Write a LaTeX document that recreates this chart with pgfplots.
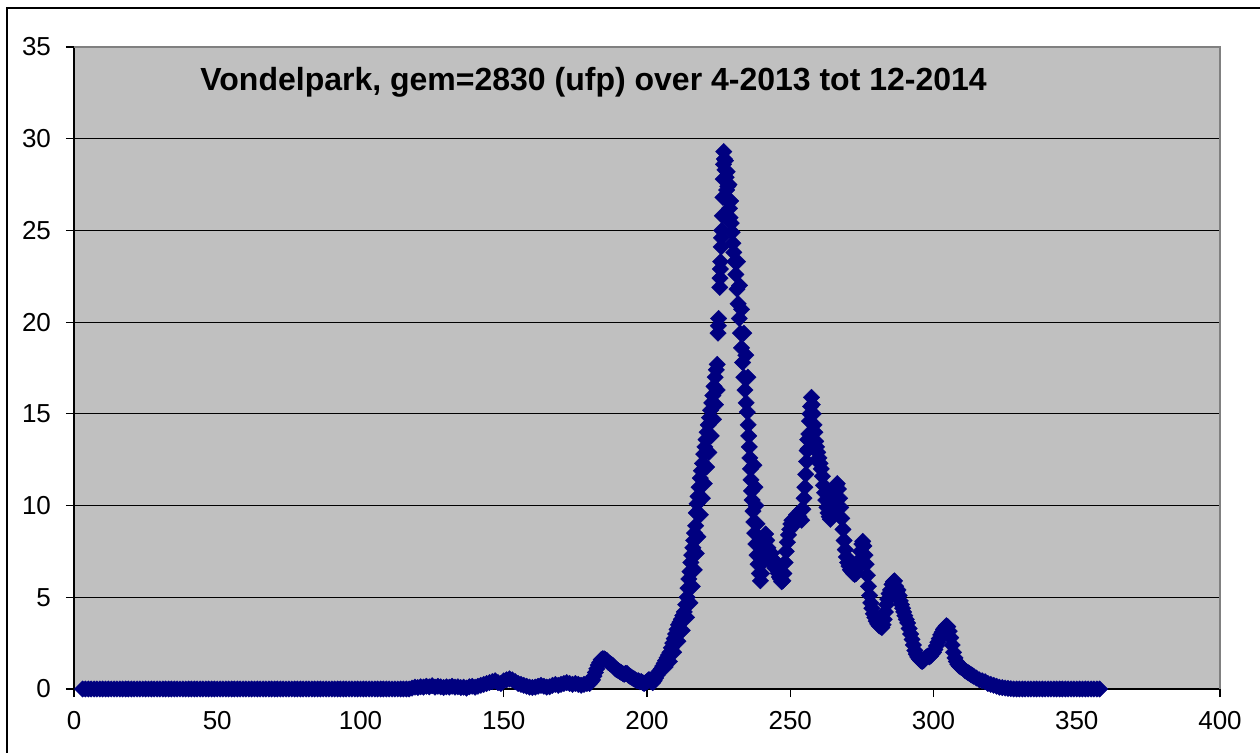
\documentclass[border=0pt]{standalone}
\usepackage{pgfplots}
\pgfplotsset{compat=1.18}
\usepackage{fontspec}
\setmainfont{Liberation Sans}
\definecolor{plotbg}{HTML}{C0C0C0}
\definecolor{navy}{HTML}{000080}
\definecolor{frameg}{HTML}{808080}
\begin{document}
\begin{tikzpicture}
\useasboundingbox (0,0) rectangle (630pt,376pt);
\begin{axis}[
  at={(37pt,31.5pt)}, anchor=south west,
  width=573pt, height=321pt, scale only axis,
  xmin=0, xmax=400, ymin=0, ymax=35,
  xtick={0,50,...,400}, ytick={0,5,...,35},
  ymajorgrids, grid style={black, line width=0.6pt},
  tick align=outside, xtick pos=bottom, ytick pos=left,
  major tick length=4pt, tick style={black, line width=0.6pt},
  axis line style={draw=none},
  axis background/.style={fill=plotbg},
  clip=false,
  tick label style={font=\fontsize{13}{15}\selectfont},
  xticklabel style={yshift=-3.5pt},
  yticklabel style={xshift=-4pt},
  /pgf/number format/assume math mode=true,
]
\addplot[only marks, mark=square*, mark size=2.9pt, mark options={rotate=45, fill=navy, draw=navy, line width=0.2pt}] table[row sep=\\] {
x y\\
3 0\\ 4 0\\ 5 0\\ 6 0\\ 7 0\\ 8 0\\ 9 0\\ 10 0\\ 11 0\\ 12 0\\ 13 0\\ 14 0\\ 15 0\\ 16 0\\ 17 0\\ 18 0\\ 19 0\\ 20 0\\
21 0\\ 22 0\\ 23 0\\ 24 0\\ 25 0\\ 26 0\\ 27 0\\ 28 0\\ 29 0\\ 30 0\\ 31 0\\ 32 0\\ 33 0\\ 34 0\\ 35 0\\ 36 0\\ 37 0\\ 38 0\\ 39 0\\ 40 0\\
41 0\\ 42 0\\ 43 0\\ 44 0\\ 45 0\\ 46 0\\ 47 0\\ 48 0\\ 49 0\\ 50 0\\ 51 0\\ 52 0\\ 53 0\\ 54 0\\ 55 0\\ 56 0\\ 57 0\\ 58 0\\ 59 0\\ 60 0\\
61 0\\ 62 0\\ 63 0\\ 64 0\\ 65 0\\ 66 0\\ 67 0\\ 68 0\\ 69 0\\ 70 0\\ 71 0\\ 72 0\\ 73 0\\ 74 0\\ 75 0\\ 76 0\\ 77 0\\ 78 0\\ 79 0\\ 80 0\\
81 0\\ 82 0\\ 83 0\\ 84 0\\ 85 0\\ 86 0\\ 87 0\\ 88 0\\ 89 0\\ 90 0\\ 91 0\\ 92 0\\ 93 0\\ 94 0\\ 95 0\\ 96 0\\ 97 0\\ 98 0\\ 99 0\\ 100 0\\
101 0\\ 102 0\\ 103 0\\ 104 0\\ 105 0\\ 106 0\\ 107 0\\ 108 0\\ 109 0\\ 110 0\\ 111 0\\ 112 0\\ 113 0\\ 114 0\\ 115 0\\ 116 0\\ 117 0\\
118 0.05\\ 119 0.1\\ 120 0.08\\ 121 0.12\\ 122 0.1\\ 123 0.15\\ 124 0.12\\ 125 0.18\\ 126 0.1\\ 127 0.15\\ 128 0.12\\ 129 0.08\\
130 0.12\\ 131 0.1\\ 132 0.15\\ 133 0.1\\ 134 0.12\\ 135 0.08\\ 136 0.1\\ 137 0.05\\ 138 0.12\\ 139 0.15\\ 140 0.1\\ 141 0.15\\
142 0.2\\ 143 0.25\\ 144 0.3\\ 145 0.35\\ 146 0.4\\ 147 0.45\\ 148 0.35\\ 149 0.3\\ 150 0.45\\ 151 0.5\\ 152 0.55\\ 153 0.5\\
154 0.4\\ 155 0.3\\ 156 0.25\\ 157 0.2\\ 158 0.15\\ 159 0.1\\ 160 0.08\\ 161 0.1\\ 162 0.15\\ 163 0.2\\ 164 0.15\\ 165 0.1\\
166 0.12\\ 167 0.2\\ 168 0.25\\ 169 0.2\\ 170 0.25\\ 171 0.3\\ 172 0.35\\ 173 0.3\\ 174 0.25\\ 175 0.3\\ 176 0.25\\ 177 0.2\\
178 0.25\\ 179 0.3\\
180 0.3\\ 180.5 0.4\\ 181 0.5\\ 181.5 0.7\\ 182 0.9\\ 182.5 1.1\\ 183 1.3\\ 183.5 1.45\\ 184 1.6\\ 184.5 1.65\\ 185 1.65\\
185.5 1.6\\ 186 1.55\\ 186.5 1.45\\ 187 1.4\\ 187.5 1.35\\ 188 1.3\\ 188.5 1.2\\ 189 1.1\\ 189.5 1.05\\ 190 1.0\\ 190.5 0.95\\
191 0.9\\ 191.5 0.85\\ 192 0.8\\ 192.5 0.85\\ 193 0.85\\ 193.5 0.75\\ 194 0.7\\ 194.5 0.65\\ 195 0.6\\ 195.5 0.55\\ 196 0.5\\
196.5 0.45\\ 197 0.45\\ 197.5 0.4\\ 198 0.4\\ 198.5 0.35\\ 199 0.3\\ 199.5 0.35\\ 200 0.4\\ 200.5 0.5\\ 201 0.5\\ 201.5 0.4\\
202 0.35\\ 202.5 0.45\\ 203 0.6\\ 203.5 0.75\\ 204 0.9\\ 204.5 1.0\\ 205 1.1\\ 205.5 1.25\\ 206 1.4\\ 206.5 1.55\\ 207 1.7\\
207.5 1.85\\ 208 2.0\\ 208.5 2.25\\ 209 2.5\\ 209.5 2.75\\ 210 3.0\\ 210.5 3.25\\ 211 3.5\\ 211.5 3.65\\ 212 3.8\\ 212.5 4.0\\
213 4.2\\ 213.5 4.6\\ 214 5.0\\ 214.3 5.5\\ 214.6 6.0\\ 215 6.4\\ 215.3 6.9\\ 215.6 7.3\\ 216 7.7\\ 216.3 8.1\\ 216.6 8.5\\ 217 8.9\\
217.2 9.6\\ 217.5 10.1\\ 217.8 10.5\\ 218.2 11.0\\ 218.6 11.5\\ 219 11.9\\ 219.4 12.3\\ 219.8 12.8\\ 220.2 13.2\\ 220.6 13.6\\
221 14.0\\ 221.4 14.4\\ 221.8 14.8\\ 222.2 15.2\\ 222.6 15.6\\ 223 16.0\\ 223.4 16.5\\ 223.8 17.0\\ 224.2 17.4\\ 224.5 17.7\\
224.8 19.4\\ 224.9 19.8\\ 225.0 20.2\\ 225.4 21.9\\ 225.5 22.4\\ 225.6 22.9\\ 225.7 23.3\\ 225.9 24.1\\ 226.0 24.6\\ 226.1 25.0\\
226.3 25.8\\ 226.5 26.8\\ 226.6 27.8\\ 226.7 28.6\\ 226.8 29.3\\ 227.0 28.9\\ 227.2 28.3\\ 227.4 28.8\\ 227.6 27.9\\ 227.8 27.2\\
228.0 28.2\\ 228.2 27.4\\ 228.4 26.6\\ 228.6 27.5\\ 228.8 26.2\\ 229.0 25.7\\ 229.2 26.6\\ 229.4 25.4\\ 229.7 24.9\\ 230.0 24.3\\
230.3 23.8\\ 230.6 23.3\\ 231.0 22.6\\ 231.4 21.8\\ 231.8 21.0\\ 232.2 20.2\\ 232.6 19.4\\ 233.0 18.6\\ 233.4 17.8\\ 233.8 17.0\\
234.2 16.3\\ 234.6 15.6\\ 235.0 15.1\\ 235.3 14.4\\ 235.5 13.8\\ 235.7 13.2\\ 235.9 12.6\\ 236.1 12.0\\ 236.3 11.4\\ 236.5 10.8\\
236.7 10.3\\ 237.0 9.7\\ 237.3 9.1\\ 237.6 8.5\\ 238.0 7.9\\ 238.4 7.3\\ 238.8 6.8\\ 239.2 6.3\\ 239.6 5.9\\ 240.0 6.3\\ 240.4 6.9\\
240.8 7.5\\ 241.1 8.0\\ 241.4 8.45\\ 241.8 8.1\\ 242.2 7.7\\ 242.6 7.3\\ 243.0 7.0\\ 243.4 7.4\\ 243.8 7.1\\ 244.2 6.8\\ 244.6 6.6\\
245.0 6.9\\ 245.4 6.5\\ 245.8 6.3\\ 246.2 6.1\\ 246.6 6.0\\ 247.0 5.85\\ 247.4 5.9\\ 247.8 6.3\\ 248.2 6.9\\ 248.6 7.5\\ 249.0 8.0\\
249.4 8.4\\ 249.8 8.7\\ 250.2 9.0\\ 250.6 9.2\\ 251.0 8.9\\ 251.4 9.1\\ 251.8 9.3\\ 252.2 9.5\\ 252.6 9.4\\ 253.0 9.4\\ 253.5 9.7\\
254.0 9.2\\ 254.4 9.8\\ 254.8 10.4\\ 255.1 11.0\\ 255.4 11.7\\ 255.7 12.4\\ 255.9 13.0\\ 256.1 13.6\\ 256.3 13.1\\ 256.5 13.9\\
256.7 14.6\\ 256.9 15.0\\ 257.1 15.4\\ 257.4 15.9\\ 257.7 15.5\\ 258.0 15.0\\ 258.3 14.4\\ 258.6 14.0\\ 258.9 13.5\\ 259.2 13.2\\
259.6 12.9\\ 260.0 12.6\\ 260.4 12.3\\ 260.8 12.0\\ 261.2 11.6\\ 261.6 11.1\\ 262.0 10.7\\ 262.4 10.3\\ 262.8 9.9\\ 263.2 9.6\\
263.6 9.4\\ 264.0 9.25\\ 264.4 9.6\\ 264.8 10.1\\ 265.2 10.6\\ 265.6 10.9\\ 266.0 11.1\\ 266.4 11.2\\ 266.8 10.9\\ 267.2 10.4\\
267.6 9.9\\ 268.0 9.3\\ 268.4 8.7\\ 268.8 8.1\\ 269.2 7.6\\ 269.6 7.2\\ 270.0 6.9\\ 270.5 6.7\\ 271.0 6.5\\ 271.5 6.4\\ 272.0 6.3\\
272.5 6.25\\ 273.0 6.3\\ 273.5 6.6\\ 274.0 7.0\\ 274.5 7.5\\ 275.0 7.9\\ 275.3 8.05\\ 275.7 7.8\\ 276.1 7.3\\ 276.5 6.8\\ 276.9 6.2\\
277.3 5.6\\ 277.7 5.1\\ 278.1 4.7\\ 278.5 4.4\\ 279.0 4.1\\ 279.5 3.9\\ 280.0 3.7\\ 280.5 3.55\\ 281.0 3.45\\ 281.5 3.4\\ 282.0 3.35\\
282.4 3.5\\ 282.8 3.8\\ 283.2 4.2\\ 283.6 4.6\\ 284.0 4.9\\ 284.5 5.2\\ 285.0 5.4\\ 285.5 5.7\\ 286.0 5.85\\ 286.4 5.9\\ 286.8 5.6\\
287.2 5.3\\ 287.6 5.4\\ 288.0 5.1\\ 288.4 4.8\\ 288.8 4.6\\ 289.2 4.4\\ 289.6 4.2\\ 290.0 4.0\\ 290.5 3.8\\ 291.0 3.6\\ 291.5 3.3\\
292.0 3.0\\ 292.5 2.7\\ 293.0 2.4\\ 293.5 2.1\\ 294.0 1.9\\ 294.5 1.75\\ 295.0 1.65\\ 295.5 1.55\\ 296.0 1.5\\ 296.5 1.55\\ 297.0 1.65\\
297.5 1.75\\ 298.0 1.8\\ 298.5 1.75\\ 299.0 1.8\\ 299.5 1.9\\ 300.0 2.0\\ 300.5 2.15\\ 301.0 2.35\\ 301.5 2.55\\ 302.0 2.75\\
302.5 2.95\\ 303.0 3.1\\ 303.5 3.25\\ 304.0 3.35\\ 304.5 3.45\\ 305.0 3.4\\ 305.5 3.15\\ 306.0 2.8\\ 306.5 2.4\\ 307.0 2.0\\
307.5 1.7\\ 308.0 1.5\\ 308.5 1.35\\ 309.0 1.25\\ 309.5 1.2\\ 310.0 1.15\\ 310.5 1.1\\ 311.0 1.0\\ 311.5 0.95\\ 312.0 0.9\\
312.5 0.85\\ 313.0 0.8\\ 313.5 0.75\\ 314.0 0.7\\ 315.0 0.6\\ 316.0 0.5\\ 317.0 0.45\\ 318.0 0.4\\ 319.0 0.3\\ 320.0 0.25\\
321.0 0.2\\ 322.0 0.15\\ 323.0 0.1\\ 324.0 0.08\\ 325.0 0.05\\ 326 0.03\\ 327 0.02\\ 328 0\\ 329 0\\ 330 0\\
331 0\\ 332 0\\ 333 0\\ 334 0\\ 335 0\\ 336 0\\ 337 0\\ 338 0\\ 339 0\\ 340 0\\ 341 0\\ 342 0\\ 343 0\\ 344 0\\ 345 0\\ 346 0\\
347 0\\ 348 0\\ 349 0\\ 350 0\\ 351 0\\ 352 0\\ 353 0\\ 354 0\\ 355 0\\ 356 0\\ 357 0\\ 358 0\\
206.3 1.2\\ 207.8 1.5\\ 209.3 2.0\\ 210.8 2.6\\ 212.3 3.2\\ 213.8 3.9\\ 215.0 4.7\\ 215.8 5.6\\ 216.5 6.5\\ 217.2 7.4\\
217.8 8.3\\ 218.6 9.5\\ 219.3 10.4\\ 220.0 11.2\\ 220.8 12.1\\ 221.6 12.9\\ 222.4 13.8\\ 223.2 14.7\\ 223.9 15.5\\ 224.5 16.3\\
231.6 23.3\\ 232.3 22.0\\ 233.0 20.7\\ 233.8 19.4\\ 234.5 18.2\\ 235.2 17.0\\
237.3 12.2\\ 237.7 11.0\\ 238.0 10.0\\ 238.4 9.0\\ 238.8 8.0\\ 239.3 7.2\\
};
\draw[black, line width=0.8pt] (rel axis cs:0,1) -- (rel axis cs:0,0) -- (rel axis cs:1,0);
\draw[frameg, line width=1pt] (rel axis cs:0,1) -- (rel axis cs:1,1) -- (rel axis cs:1,0);
\node[anchor=west, font=\fontsize{16}{19}\selectfont\bfseries, inner sep=0pt] at (axis cs:44,33.05) {Vondelpark, gem=2830 (ufp) over 4-2013 tot 12-2014};
\end{axis}
\draw[black, line width=1pt] (3.5pt,-5pt) -- (3.5pt,372pt) -- (640pt,372pt);
\end{tikzpicture}
\end{document}
